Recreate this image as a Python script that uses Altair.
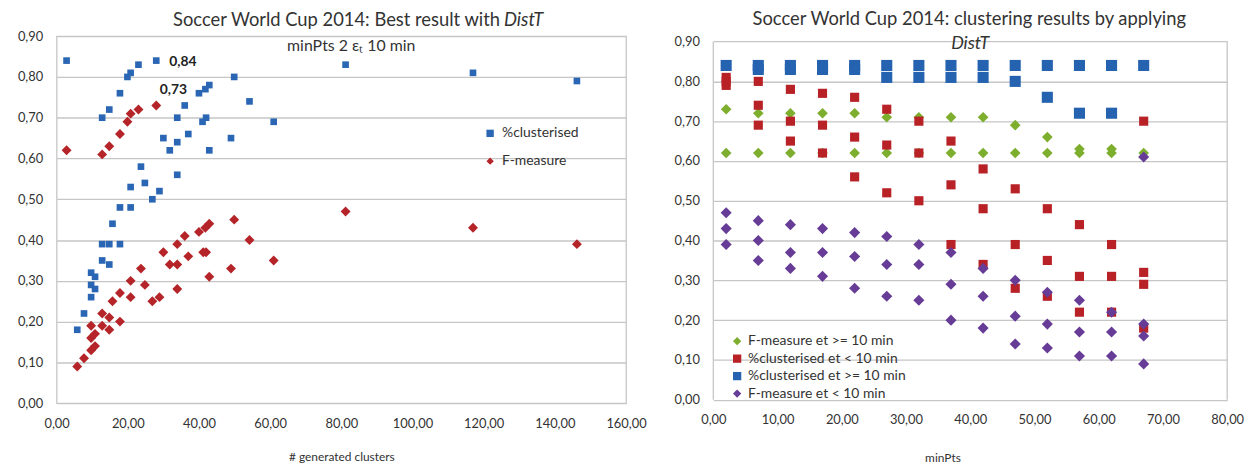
import altair as alt
import pandas as pd

FONT = "Lato"
TXT = "#333333"
GRID = "#C6C6C6"

# ---------------- left chart data ----------------
left_series = ["%clusterised", "F-measure"]
left_colors = ["#2A66B4", "#B52429"]
left_shapes = ["square", "diamond"]
left_sizes = [45, 100]

left_clust_x = [2.8, 23.0, 20.8, 19.9, 28.0, 17.8, 14.8, 12.8, 49.9, 54.2, 61.0, 42.9, 41.8, 40.0, 36.0,
                33.9, 42.0, 41.0, 37.0, 30.0, 33.9, 31.8, 42.9, 49.0, 23.7, 33.9, 24.8, 20.8, 28.9, 26.9,
                17.8, 20.8, 15.7, 12.8, 14.8, 17.8, 12.8, 14.8, 9.7, 10.8, 9.7, 10.8, 9.7, 7.7, 5.8,
                81.2, 117.0, 146.2]
left_clust_y = [0.84, 0.83, 0.81, 0.80, 0.84, 0.76, 0.72, 0.70, 0.80, 0.74, 0.69, 0.78, 0.77, 0.76, 0.73,
                0.70, 0.70, 0.69, 0.66, 0.65, 0.64, 0.62, 0.62, 0.65, 0.58, 0.56, 0.54, 0.53, 0.52, 0.50,
                0.48, 0.48, 0.44, 0.39, 0.39, 0.39, 0.35, 0.34, 0.32, 0.31, 0.29, 0.28, 0.26, 0.22, 0.18,
                0.83, 0.81, 0.79]
left_fm_x = [2.8, 12.8, 14.8, 17.8, 19.9, 20.8, 23.0, 28.0, 49.9, 54.2, 61.0, 42.9, 41.8, 40.0, 36.0,
             33.9, 30.0, 41.2, 42.0, 37.0, 31.8, 33.9, 23.7, 49.0, 20.8, 24.8, 42.9, 33.9, 17.8, 20.8,
             26.9, 28.9, 15.7, 12.8, 14.8, 17.8, 9.7, 12.8, 14.8, 10.8, 9.7, 10.8, 9.7, 7.7, 5.8,
             81.2, 117.0, 146.2]
left_fm_y = [0.62, 0.61, 0.63, 0.66, 0.69, 0.71, 0.72, 0.73, 0.45, 0.40, 0.35, 0.44, 0.43, 0.42, 0.41,
             0.39, 0.37, 0.37, 0.37, 0.36, 0.34, 0.34, 0.33, 0.33, 0.30, 0.29, 0.31, 0.28, 0.27, 0.26,
             0.25, 0.26, 0.25, 0.22, 0.21, 0.20, 0.19, 0.19, 0.18, 0.17, 0.16, 0.14, 0.13, 0.11, 0.09,
             0.47, 0.43, 0.39]

left_label_x = [28.0, 28.0]
left_label_y = [0.84, 0.73]
left_label_text = ["0,84", "0,73"]

left_x_ticks = [0, 20, 40, 60, 80, 100, 120, 140, 160]
y_ticks = [0.0, 0.1, 0.2, 0.3, 0.4, 0.5, 0.6, 0.7, 0.8, 0.9]

# ---------------- right chart data ----------------
right_series = ["F-measure et >= 10 min", "%clusterised et < 10 min",
                "%clusterised et >= 10 min", "F-measure et < 10 min"]
right_colors = ["#7DAE2E", "#B82227", "#2563B0", "#663C96"]
right_shapes = ["diamond", "square", "square", "diamond"]
right_sizes = [115, 85, 125, 125]

min_pts = [2, 7, 12, 17, 22, 27, 32, 37, 42, 47, 52, 57, 62, 67]
fm_ge10 = [[0.73, 0.62], [0.72, 0.62], [0.72, 0.62], [0.72, 0.62], [0.72, 0.62], [0.71, 0.62],
           [0.71, 0.62], [0.71, 0.62], [0.71, 0.62], [0.69, 0.62], [0.66, 0.62], [0.63, 0.62],
           [0.63, 0.62], [0.62]]
cl_lt10 = [[0.81, 0.80, 0.79], [0.80, 0.74, 0.69], [0.78, 0.70, 0.65], [0.77, 0.69, 0.62],
           [0.76, 0.66, 0.56], [0.73, 0.64, 0.52], [0.70, 0.62, 0.50], [0.65, 0.54, 0.39],
           [0.58, 0.48, 0.34], [0.53, 0.39, 0.28], [0.48, 0.35, 0.26], [0.44, 0.31, 0.22],
           [0.39, 0.31, 0.22], [0.70, 0.32, 0.29, 0.18]]
cl_ge10 = [[0.84], [0.84, 0.83], [0.84, 0.83], [0.84, 0.83], [0.84, 0.83], [0.84, 0.81],
           [0.84, 0.81], [0.84, 0.81], [0.84, 0.81], [0.84, 0.80], [0.84, 0.76], [0.84, 0.72],
           [0.84, 0.72], [0.84]]
fm_lt10 = [[0.47, 0.43, 0.39], [0.45, 0.40, 0.35], [0.44, 0.37, 0.33], [0.43, 0.37, 0.31],
           [0.42, 0.36, 0.28], [0.41, 0.34, 0.26], [0.39, 0.34, 0.25], [0.37, 0.29, 0.20],
           [0.33, 0.26, 0.18], [0.30, 0.21, 0.14], [0.27, 0.19, 0.13], [0.25, 0.17, 0.11],
           [0.22, 0.17, 0.11], [0.61, 0.19, 0.16, 0.09]]
right_x_ticks = [0, 10, 20, 30, 40, 50, 60, 70, 80]

# ---------------- tables ----------------
left_df = pd.concat([
    pd.DataFrame({"x": left_clust_x, "y": left_clust_y, "s": left_series[0]}),
    pd.DataFrame({"x": left_fm_x, "y": left_fm_y, "s": left_series[1]}),
], ignore_index=True)
lab_df = pd.DataFrame({"x": left_label_x, "y": left_label_y, "t": left_label_text})

rows = []
for name, vals in zip(right_series, [fm_ge10, cl_lt10, cl_ge10, fm_lt10]):
    for mp, ys in zip(min_pts, vals):
        for v in ys:
            rows.append({"mx": mp, "my": v, "r": name})
right_df = pd.DataFrame(rows)
one = pd.DataFrame({"k": [0]})

fmt = "replace(format(datum.value, '.2f'), '.', ',')"
LW, LH = 574, 370
RW, RH = 518, 366.5
R_EXTRA = 5.5                       # right plot frame starts this much below the left one
R_TOP = 0.9 * RH / (RH - R_EXTRA)   # hidden headroom on the right y scale


def txt(text, x, y, size=18, style="normal", weight="normal", align="center"):
    return alt.Chart(one).mark_text(font=FONT, fontSize=size, fontStyle=style, fontWeight=weight,
                                    align=align, baseline="middle", color=TXT).encode(
        x=alt.value(x), y=alt.value(y), text=alt.value(text))


# ---------------- left chart ----------------
lx = alt.X("x:Q", scale=alt.Scale(domain=[0, 160], nice=False),
           axis=alt.Axis(values=left_x_ticks, labelExpr=fmt, title="# generated clusters", grid=False,
                         labelFlush=False, labelPadding=15, titlePadding=21, titleFontSize=12,
                         titleFontWeight="normal"))
ly = alt.Y("y:Q", scale=alt.Scale(domain=[0, 0.9], nice=False),
           axis=alt.Axis(values=y_ticks, labelExpr=fmt, title=None, grid=True, labelPadding=14,
                         labelFlush=False))
left_leg = alt.Legend(title=None, orient="none", legendX=430, legendY=91, rowPadding=14,
                      labelFontSize=14, symbolSize=55, labelOffset=5, padding=0)
left_layers = []
for name, sz in zip(left_series, left_sizes):
    left_layers.append(
        alt.Chart(left_df).transform_filter(alt.datum.s == name).mark_point(
            filled=True, opacity=1, size=sz, strokeWidth=0).encode(
            x=lx, y=ly,
            color=alt.Color("s:N", scale=alt.Scale(domain=left_series, range=left_colors), legend=left_leg),
            shape=alt.Shape("s:N", scale=alt.Scale(domain=left_series, range=left_shapes), legend=left_leg)))

lab1 = alt.Chart(lab_df).transform_filter(alt.datum.t == "0,84").mark_text(
    font=FONT, fontSize=14, fontWeight="bold", align="left", baseline="middle", dx=13, dy=1.5, color="#222222"
).encode(x="x:Q", y="y:Q", text="t:N")
lab2 = alt.Chart(lab_df).transform_filter(alt.datum.t == "0,73").mark_text(
    font=FONT, fontSize=14, fontWeight="bold", align="left", baseline="middle", dx=3.5, dy=-16, color="#222222"
).encode(x="x:Q", y="y:Q", text="t:N")

left = alt.layer(
    *left_layers, lab1, lab2,
    txt("Soccer World Cup 2014: Best result with", 447, -16.5, size=18.5, align="right"),
    txt("DistT", 451, -16.5, size=18.5, style="italic", align="left"),
    txt("minPts 2 \u03b5\u209c 10 min", 297, 9.5, size=16),
).properties(width=LW, height=LH)

# ---------------- right chart ----------------
rx = alt.X("mx:Q", scale=alt.Scale(domain=[0, 80], nice=False),
           axis=alt.Axis(values=right_x_ticks, labelExpr=fmt, title="minPts", grid=False,
                         labelFlush=False, labelPadding=14, titlePadding=26, titleFontSize=12,
                         titleFontWeight="normal", titleX=231, titleAnchor="start", titleAlign="center"))
ry = alt.Y("my:Q", scale=alt.Scale(domain=[0, R_TOP], nice=False),
           axis=alt.Axis(values=y_ticks, labelExpr=fmt, title=None, grid=True, labelPadding=14,
                         labelFlush=False))
right_leg = alt.Legend(title=None, orient="none", legendX=17, legendY=295 + R_EXTRA, rowPadding=3.6,
                       labelFontSize=14, symbolSize=70, labelOffset=4, padding=0)
right_layers = []
for name, sz in zip(right_series, right_sizes):
    right_layers.append(
        alt.Chart(right_df).transform_filter(alt.datum.r == name).mark_point(
            filled=True, opacity=1, size=sz, strokeWidth=0).encode(
            x=rx, y=ry,
            color=alt.Color("r:N", scale=alt.Scale(domain=right_series, range=right_colors), legend=right_leg),
            shape=alt.Shape("r:N", scale=alt.Scale(domain=right_series, range=right_shapes), legend=right_leg)))

frame_l = alt.Chart(one).mark_rule(color=GRID, strokeWidth=1.3).encode(
    x=alt.datum(0, scale=alt.Scale(domain=[0, 80], nice=False)), y=alt.datum(0.9), y2=alt.datum(0.0))
frame_r = alt.Chart(one).mark_rule(color=GRID, strokeWidth=1.3).encode(
    x=alt.datum(80), y=alt.datum(0.9), y2=alt.datum(0.0))

right = alt.layer(
    frame_l, frame_r,
    *right_layers,
    txt("Soccer World Cup 2014: clustering results by applying", 258, -17.5, size=18.5),
    txt("DistT", 259, 7.5, size=18, style="italic"),
).properties(width=RW, height=RH, view=alt.ViewBackground(stroke="transparent"))

chart = alt.concat(left, right, columns=2, spacing=26, align="none", bounds="full").resolve_scale(
    x="independent", y="independent", color="independent", shape="independent"
).configure(
    font=FONT, padding={"left": 8, "top": -1.5, "right": 5, "bottom": 5}
).configure_view(
    stroke=GRID, strokeWidth=1.3
).configure_axis(
    labelFont=FONT, labelFontSize=13, labelColor=TXT, titleFont=FONT, titleColor=TXT,
    domain=False, ticks=False, gridColor=GRID, gridWidth=1.3
).configure_legend(
    labelFont=FONT, labelColor=TXT
)

chart.save("out.html", embed_options={"renderer": "svg", "actions": False})
